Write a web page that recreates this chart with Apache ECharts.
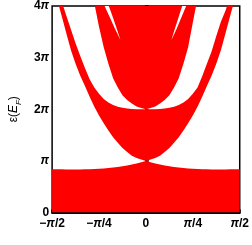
<!DOCTYPE html>
<html><head><meta charset="utf-8">
<script src="https://cdn.jsdelivr.net/npm/echarts@6/dist/echarts.min.js"></script>
<style>html,body{margin:0;padding:0;background:#fff}#c{width:252px;height:245px}</style>
</head><body><div id="c"></div>
<script>
// x in units of pi, y (energy) in units of pi
const XS = [-0.5,-0.475,-0.45,-0.425,-0.4,-0.375,-0.35,-0.325,-0.3,-0.275,-0.25,-0.225,-0.2,-0.175,-0.15,-0.125,-0.1,-0.075,-0.05,-0.025,0,0.025,0.05,0.075,0.1,0.125,0.15,0.175,0.2,0.225,0.25,0.275,0.3,0.325,0.35,0.375,0.4,0.425,0.45,0.475,0.5];
const BAND_A_TOP = [0.84,0.838,0.836,0.835,0.835,0.835,0.835,0.836,0.838,0.842,0.846,0.852,0.86,0.87,0.882,0.895,0.91,0.928,0.948,0.972,1.0,0.972,0.948,0.928,0.91,0.895,0.882,0.87,0.86,0.852,0.846,0.842,0.838,0.836,0.835,0.835,0.835,0.835,0.836,0.838,0.84];
const BAND_B_LOW = [4.5,4.15,3.82,3.48,3.15,2.88,2.65,2.45,2.24,2.05,1.88,1.73,1.59,1.46,1.35,1.25,1.17,1.1,1.055,1.025,1.0,1.025,1.055,1.1,1.17,1.25,1.35,1.46,1.59,1.73,1.88,2.05,2.24,2.45,2.65,2.88,3.15,3.48,3.82,4.15,4.5];
const BAND_B_HIGH = [4.7,4.4,4.1,3.82,3.55,3.28,3.03,2.8,2.58,2.42,2.3,2.2,2.13,2.08,2.05,2.03,2.015,2.005,2.0,2.0,2.0,2.0,2.0,2.005,2.015,2.03,2.05,2.08,2.13,2.2,2.3,2.42,2.64,2.88,3.12,3.42,3.7,3.92,4.2,4.5,4.8];
const XS_C = [-0.3,-0.275,-0.25,-0.225,-0.2,-0.175,-0.15,-0.125,-0.1,-0.075,-0.05,-0.025,0,0.025,0.05,0.075,0.1,0.125,0.15,0.175,0.2,0.225,0.25,0.275,0.3];
const BAND_C_LOW = [4.5,4.05,3.6,3.2,2.88,2.6,2.42,2.27,2.18,2.11,2.055,2.025,2.0,2.025,2.055,2.11,2.18,2.27,2.42,2.6,2.88,3.2,3.68,4.15,4.6];
// thin gap inside the upper band (left and right)
const GAP_L_X = [-0.24,-0.225,-0.21,-0.195,-0.18,-0.165,-0.15,-0.136];
const GAP_L_LOW = [4.16,4.04,3.92,3.80,3.68,3.56,3.45,3.34];
const GAP_L_HIGH = [4.42,4.27,4.12,3.97,3.82,3.66,3.50,3.34];
const GAP_R_X = [0.136,0.15,0.165,0.18,0.195,0.21,0.225,0.24];
const GAP_R_LOW = [3.34,3.45,3.57,3.70,3.83,3.96,4.09,4.2];
const GAP_R_HIGH = [3.34,3.51,3.68,3.85,4.02,4.18,4.34,4.5];
const X_TICKS = [-0.5,-0.25,0,0.25,0.5];
const X_LABELS = ['{b|−}{p|π}{b|/2}','{b|−}{p|π}{b|/4}','{b|0}','{p|π}{b|/4}','{p|π}{b|/2}'];
const Y_MIN = 0, Y_MAX = 4;
const Y_LABELS = ['{b|0}','{p|π}','{b|2}{p|π}','{b|3}{p|π}','{b|4}{p|π}'];

function between(xs, lo, hi){
  const pts = xs.map((x,i)=>[x, lo[i]]);
  for (let i = xs.length-1; i >= 0; i--) pts.push([xs[i], hi[i]]);
  return pts;
}
const ceilC = XS_C.map(()=>Y_MAX);
const floorA = XS.map(()=>Y_MIN);
const POLYS = [
  {pts: between(XS, floorA, BAND_A_TOP), color: '#ff0000'},
  {pts: between(XS, BAND_B_LOW, BAND_B_HIGH), color: '#ff0000'},
  {pts: between(XS_C, BAND_C_LOW, ceilC.map((c,i)=>Math.max(c, BAND_C_LOW[i]))), color: '#ff0000'},
  {pts: between(GAP_L_X, GAP_L_LOW, GAP_L_HIGH), color: '#ffffff'},
  {pts: between(GAP_R_X, GAP_R_LOW, GAP_R_HIGH), color: '#ffffff'}
];
const FONT = 'Liberation Sans';
const rich = {
  b: {fontFamily: FONT, fontWeight: 'bold', fontSize: 12, color: '#000'},
  p: {fontFamily: FONT, fontWeight: 'bold', fontStyle: 'italic', fontSize: 12, color: '#000'}
};
const chart = echarts.init(document.getElementById('c'), null, {renderer: 'canvas'});
chart.setOption({
  animation: false,
  grid: {left: 35, right: 11, top: 6, bottom: 32.5, show: true, borderColor: '#000', borderWidth: 1.5, backgroundColor: 'transparent'},
  xAxis: {
    type: 'value', min: -0.5, max: 0.5, interval: 0.25,
    axisLine: {lineStyle: {color: '#000', width: 2}},
    axisTick: {inside: true, length: 3, lineStyle: {color: '#000', width: 1.5}},
    splitLine: {show: false},
    axisLabel: {margin: 5, rich: rich, formatter: v => X_LABELS[X_TICKS.findIndex(t => Math.abs(t - v) < 1e-6)]}
  },
  yAxis: {
    type: 'value', min: Y_MIN, max: Y_MAX, interval: 1,
    name: '{n|ε(}{i|E}{s|F}{n|)}', nameLocation: 'middle', nameRotate: 90, nameGap: 19,
    nameTextStyle: {rich: {
      n: {fontFamily: FONT, fontSize: 12, color: '#000'},
      i: {fontFamily: FONT, fontSize: 12, fontStyle: 'italic', color: '#000'},
      s: {fontFamily: FONT, fontSize: 8, fontStyle: 'italic', color: '#000', verticalAlign: 'bottom', padding: [0,0,-3,0]}
    }},
    axisLine: {lineStyle: {color: '#000', width: 2}},
    axisTick: {inside: true, length: 3, lineStyle: {color: '#000', width: 1.5}},
    splitLine: {show: false},
    axisLabel: {margin: 3, rich: rich, formatter: v => Y_LABELS[Math.round(v)]}
  },
  series: [{
    type: 'custom', clip: true, silent: true,
    data: POLYS.map((p, i) => [0, 0, i]),
    encode: {x: 0, y: 1},
    renderItem: function (params, api) {
      const poly = POLYS[params.dataIndex];
      return {type: 'polygon', shape: {points: poly.pts.map(p => api.coord(p))}, style: {fill: poly.color, stroke: null}};
    }
  }]
});
</script></body></html>
